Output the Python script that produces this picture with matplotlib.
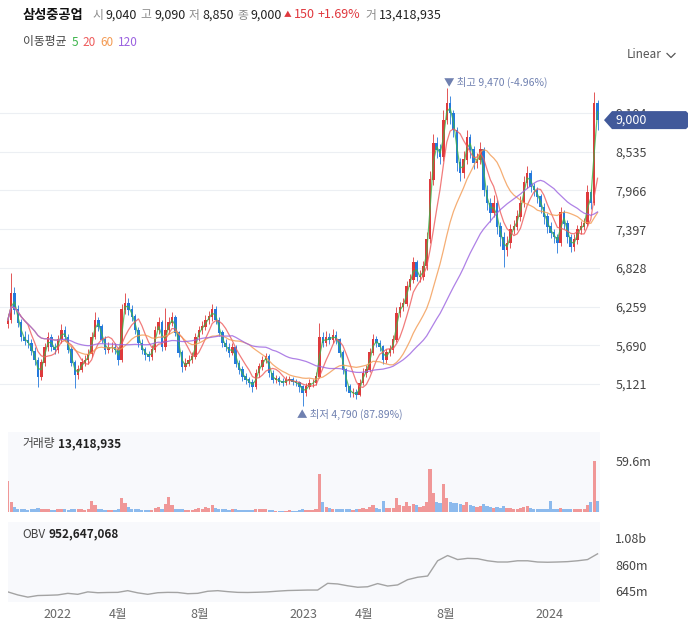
import matplotlib
matplotlib.use('Agg')
import matplotlib.pyplot as plt
import matplotlib.dates as mdates
from matplotlib.patches import Polygon
from matplotlib.lines import Line2D
import numpy as np
import pandas as pd

plt.rcParams['font.family'] = ['Noto Sans CJK KR', 'DejaVu Sans']

# ---------------- data ----------------
stock_name = '삼성중공업'
last_open, last_high, last_low, last_close = 9040, 9090, 8850, 9000
change, change_pct = 150, 1.69
last_volume = 13418935
last_obv = 952647068
max_price, max_pct = 9470, -4.96
min_price, min_pct = 4790, 87.89

start_date, end_date = '2021-10-20', '2024-03-13'
first_open = 6000

closes = [
    6060, 6450, 6210, 6020, 5810, 5760, 5720, 5600, 5470, 5230,
    5430, 5660, 5800, 5660, 5620, 5770, 5910, 5810, 5620, 5430,
    5250, 5330, 5430, 5470, 5560, 5810, 6060, 5960, 5770, 5620,
    5660, 5660, 5620, 5470, 6210, 6310, 6210, 6110, 5910, 5720,
    5620, 5550, 5520, 5620, 5910, 6020, 5660, 5910, 6020, 6100,
    5870, 5580, 5370, 5420, 5470, 5520, 5810, 5910, 5960, 6060,
    6110, 6210, 6060, 5870, 5720, 5660, 5580, 5660, 5420, 5330,
    5230, 5180, 5140, 5080, 5280, 5370, 5470, 5520, 5280, 5180,
    5200, 5150, 5140, 5180, 5180, 5150, 5140, 5080, 4990, 5080,
    5130, 5130, 5230, 5810, 5720, 5810, 5770, 5840, 5770, 5580,
    5330, 5080, 4990, 4990, 4960, 5130, 5280, 5330, 5580, 5770,
    5720, 5670, 5470, 5580, 5620, 5770, 6160, 6250, 6300, 6550,
    6650, 6900, 6700, 6700, 6850, 7250, 8120, 8660, 8560, 8460,
    9000, 9250, 9100, 8850, 8370, 8220, 8420, 8750, 8560, 8370,
    8420, 8560, 7970, 7780, 7640, 7780, 7430, 7280, 7090, 7190,
    7390, 7430, 7580, 7780, 8080, 8220, 8020, 7970, 7870, 7720,
    7580, 7430, 7340, 7280, 7190, 7640, 7480, 7280, 7140, 7240,
    7390, 7430, 7480, 7930, 7780, 9250, 9000,
]
highs = [
    6150, 6750, 6550, 6280, 6080, 5900, 5850, 5780, 5660, 5520,
    5490, 5720, 5880, 5860, 5720, 5840, 6000, 5980, 5860, 5680,
    5470, 5400, 5500, 5540, 5640, 5880, 6180, 6110, 6000, 5820,
    5740, 5740, 5720, 5660, 6300, 6460, 6380, 6280, 6150, 5960,
    5780, 5660, 5600, 5690, 5980, 6100, 6060, 6240, 6100, 6180,
    6140, 5900, 5620, 5500, 5540, 5590, 5870, 5980, 6040, 6130,
    6190, 6300, 6260, 6100, 5920, 5780, 5720, 5730, 5700, 5470,
    5380, 5280, 5220, 5190, 5340, 5430, 5530, 5580, 5560, 5320,
    5260, 5240, 5210, 5240, 5240, 5220, 5200, 5170, 5110, 5140,
    5190, 5200, 5300, 6020, 5880, 5900, 5870, 5930, 5900, 5800,
    5620, 5360, 5120, 5060, 5040, 5190, 5350, 5400, 5650, 5850,
    5830, 5770, 5700, 5640, 5690, 5840, 6250, 6330, 6380, 6640,
    6740, 6990, 6950, 6790, 6930, 7350, 8250, 8800, 8750, 8650,
    9150, 9470, 9350, 9150, 8900, 8450, 8550, 8850, 8800, 8620,
    8520, 8680, 8600, 8050, 7850, 7900, 7820, 7500, 7350, 7290,
    7480, 7530, 7680, 7880, 8180, 8330, 8260, 8080, 8020, 7920,
    7780, 7640, 7500, 7400, 7330, 7720, 7680, 7530, 7320, 7320,
    7460, 7520, 7560, 8050, 7980, 9420, 9300,
]
lows = [
    5950, 6020, 6150, 5960, 5760, 5700, 5650, 5540, 5400, 5080,
    5180, 5390, 5610, 5600, 5560, 5580, 5720, 5750, 5570, 5380,
    5060, 5200, 5290, 5380, 5420, 5520, 5780, 5900, 5720, 5560,
    5570, 5590, 5560, 5400, 5450, 6150, 6140, 6040, 5850, 5660,
    5560, 5480, 5460, 5480, 5590, 5860, 5600, 5620, 5860, 5980,
    5820, 5520, 5300, 5330, 5380, 5430, 5490, 5760, 5860, 5910,
    6000, 6050, 6000, 5820, 5660, 5600, 5520, 5540, 5370, 5270,
    5170, 5120, 5080, 5010, 5050, 5230, 5330, 5430, 5230, 5130,
    5140, 5100, 5090, 5100, 5120, 5100, 5090, 5010, 4790, 4950,
    5040, 5080, 5100, 5210, 5660, 5680, 5710, 5730, 5710, 5520,
    5270, 5020, 4930, 4930, 4900, 4940, 5100, 5230, 5300, 5540,
    5660, 5610, 5410, 5430, 5530, 5580, 5740, 6100, 6200, 6260,
    6500, 6600, 6640, 6620, 6650, 6800, 7200, 8050, 8450, 8350,
    8400, 8950, 8950, 8750, 8250, 8100, 8150, 8350, 8450, 8280,
    8300, 8350, 7880, 7680, 7500, 7580, 7330, 7150, 6840, 7000,
    7120, 7320, 7380, 7520, 7720, 8000, 7950, 7880, 7780, 7640,
    7480, 7340, 7260, 7200, 7050, 7150, 7400, 7200, 7060, 7080,
    7180, 7330, 7380, 7440, 7700, 7750, 8850,
]
volumes_m = [
    37, 12, 6, 4, 3, 3, 2.5, 3, 4, 5,
    4, 3, 3, 2.5, 2.5, 3, 4, 3, 2.5, 3,
    4, 3, 3, 2.5, 3, 13, 8, 4, 3, 2.5,
    2.5, 2, 2, 3, 16, 10, 6, 4, 3, 3,
    2.5, 2.5, 2, 2.5, 5, 6, 4, 9, 18, 8,
    4, 3, 3, 2.5, 2.5, 2, 4, 5, 4, 6,
    5, 8, 5, 4, 3, 3, 2.5, 3, 3, 2.5,
    2, 2, 2, 2, 3, 3, 4, 3, 2.5, 2,
    1.5, 1.5, 1.5, 1.5, 2, 1.5, 1.5, 2, 3, 2,
    2, 2, 3, 45, 12, 6, 5, 4, 4, 3,
    4, 3, 3, 2.5, 3, 4, 5, 4, 6, 8,
    5, 4, 13, 5, 5, 5, 16, 8, 7, 12,
    7, 9, 8, 6, 7, 12, 50, 22, 12, 10,
    33, 17, 12, 10, 11, 9, 8, 12, 8, 7,
    6, 7, 9, 7, 6, 5, 6, 5, 7, 5,
    5, 4, 4, 5, 6, 7, 5, 4, 4, 3,
    4, 4, 13, 4, 3, 5, 4, 3, 3, 3,
    3, 3, 4, 8, 12, 59.6, 13.4,
]
obv_m = [
    640, 615, 597, 610, 612, 615, 628, 620, 640, 633,
    635, 636, 650, 632, 620, 633, 636, 635, 625, 628,
    645, 650, 642, 636, 635, 637, 640, 646, 651, 653,
    655, 655, 710, 705, 690, 678, 682, 708, 688, 697,
    740, 760, 770, 895, 938, 905, 915, 912, 895, 885,
    885, 895, 895, 885, 883, 885, 888, 895, 905, 952,
]

ma_labels = ['5', '20', '60', '120']
ma_candle_windows = [2, 6, 17, 34]
ma_colors = ['#3cb44b', '#ee5b5b', '#f39a52', '#9b62e0']

price_ticks = [5121, 5690, 6259, 6828, 7397, 7966, 8535, 9104]
vol_ticks = [59.6]
vol_tick_labels = ['59.6m']
obv_ticks = [645, 860, 1080]
obv_tick_labels = ['645m', '860m', '1.08b']
x_tick_dates = ['2022-01-01', '2022-04-01', '2022-08-01', '2023-01-01',
                '2023-04-01', '2023-08-01', '2024-01-01']
x_tick_labels = ['2022', '4월', '8월', '2023', '4월', '8월', '2024']

# ---------------- layout ----------------
W, H = 697, 629
fig = plt.figure(figsize=(W / 100, H / 100), dpi=100)
fig.patch.set_facecolor('white')


def fbox(x0, y0, x1, y1):
    return [x0 / W, 1 - y1 / H, (x1 - x0) / W, (y1 - y0) / H]


ax = fig.add_axes(fbox(0, 65, 600, 425))
axv = fig.add_axes(fbox(8, 432, 600, 512))
axo = fig.add_axes(fbox(8, 522, 600, 602))

dates = pd.date_range(start_date, end_date, periods=len(closes))
xd = mdates.date2num(dates)
step = xd[1] - xd[0]
c = np.array(closes, float)
o = np.concatenate([[first_open], c[:-1]])
h = np.maximum(np.array(highs, float), np.maximum(o, c))
l = np.minimum(np.array(lows, float), np.minimum(o, c))
up = c >= o
up_col, dn_col = '#de3a3c', '#2479dc'
cols = np.where(up, up_col, dn_col)

ref = mdates.date2num(pd.Timestamp('2022-01-01'))
px_per_day = 0.674


def px2date(px):
    return ref + (px - 57) / px_per_day


# main candles
ax.vlines(xd, l, h, colors=cols, linewidth=0.6, zorder=3)
ax.bar(xd, np.abs(c - o) + 8, bottom=np.minimum(o, c), width=step * 0.75,
       color=cols, linewidth=0, zorder=3)

s = pd.Series(c)
for win, col in zip(ma_candle_windows, ma_colors):
    ma = s.rolling(win, min_periods=1).mean()
    ax.plot(xd, ma, color=col, lw=0.9, alpha=0.8, zorder=4)

ax.set_xlim(px2date(0), px2date(600))
ax.set_ylim(4518, 9810)
ax.set_yticks(price_ticks)
ax.set_yticklabels([f'{v:,}' for v in price_ticks])
ax.yaxis.tick_right()
ax.tick_params(axis='y', length=0, pad=11, labelsize=9, labelcolor='#444')
ax.set_xticks([])
ax.grid(axis='y', color='#eceff3', lw=0.8, zorder=0)
for sp in ax.spines.values():
    sp.set_visible(False)

# max / min annotations
imax = int(np.argmax(h))
imin = int(np.argmin(l))
ann_col = '#6f80b0'
ax.annotate(f'▼ 최고 {max_price:,} ({max_pct:.2f}%)', (xd[imax], h[imax]),
            xytext=(-2, 0), textcoords='offset points', ha='left', va='bottom',
            fontsize=7.5, color=ann_col, zorder=6)
ax.annotate(f'▲ 최저 {min_price:,} ({min_pct:.2f}%)', (xd[imin], l[imin]),
            xytext=(-4, -2), textcoords='offset points', ha='left', va='top',
            fontsize=7.5, color=ann_col, zorder=6)

# volume
vcols = np.where(up, '#f08c8c', '#80b4ec')
axv.bar(xd, volumes_m, width=step * 0.95, color=vcols, linewidth=0, alpha=0.9)
axv.set_facecolor('#f8f9fc')
axv.set_xlim(px2date(8), px2date(600))
axv.set_ylim(0, 94)
axv.set_yticks(vol_ticks)
axv.set_yticklabels(vol_tick_labels)
axv.yaxis.tick_right()
axv.tick_params(axis='y', length=0, pad=11, labelsize=9, labelcolor='#444')
axv.set_xticks([])
for sp in axv.spines.values():
    sp.set_visible(False)

# OBV
odates = mdates.date2num(pd.date_range(start_date, end_date, periods=len(obv_m)))
axo.plot(odates, obv_m, color='#a3a3a3', lw=1.0)
axo.set_facecolor('#f8f9fc')
axo.set_xlim(px2date(8), px2date(600))
axo.set_ylim(557, 1213)
axo.set_yticks(obv_ticks)
axo.set_yticklabels(obv_tick_labels)
axo.yaxis.tick_right()
axo.tick_params(axis='y', length=0, pad=11, labelsize=9, labelcolor='#444')
axo.set_xticks(mdates.date2num(pd.to_datetime(x_tick_dates)))
axo.set_xticklabels(x_tick_labels)
axo.tick_params(axis='x', length=0, pad=4, labelsize=9, labelcolor='#666')
for sp in axo.spines.values():
    sp.set_visible(False)

renderer = fig.canvas.get_renderer()


def place_seq(pieces, x0, y_px):
    x = x0
    for txt, color, weight, size, gap in pieces:
        t = fig.text(x / W, 1 - y_px / H, txt, color=color, fontsize=size,
                     fontweight=weight, va='center', ha='left')
        bb = t.get_window_extent(renderer)
        x = x + bb.width + gap


grey, dark, red = '#8a8a8a', '#222222', '#e0383e'
place_seq([
    (stock_name, '#111111', 'bold', 9.5, 9),
    ('시', grey, 'normal', 8.5, 2.5), (f'{last_open:,}', dark, 'normal', 9, 3.5),
    ('고', grey, 'normal', 8.5, 2.5), (f'{last_high:,}', dark, 'normal', 9, 3.5),
    ('저', grey, 'normal', 8.5, 2.5), (f'{last_low:,}', dark, 'normal', 9, 3.5),
    ('종', grey, 'normal', 8.5, 2.5), (f'{last_close:,}', dark, 'normal', 9, 2),
    ('▲', red, 'normal', 5.5, 2), (f'{change}', red, 'normal', 9, 3),
    (f'+{change_pct:.2f}%', red, 'normal', 9, 5),
    ('거', grey, 'normal', 8.5, 2.5), (f'{last_volume:,}', dark, 'normal', 9, 0),
], 23, 15)

place_seq([('이동평균', '#444444', 'normal', 8.5, 5)] +
          [(lab, col, 'normal', 8.5, 4.5) for lab, col in zip(ma_labels, ma_colors)],
          23, 42)

place_seq([('거래량', '#444444', 'normal', 8.5, 3),
           (f'{last_volume:,}', '#222222', 'bold', 8.5, 0)], 22, 444)
place_seq([('OBV', '#444444', 'normal', 8.5, 3),
           (f'{last_obv:,}', '#222222', 'bold', 8.5, 0)], 22, 534)

# Linear selector
fig.text(627 / W, 1 - 55 / H, 'Linear', fontsize=8.5, color='#555555',
         va='center', ha='left')
fig.add_artist(Line2D([667 / W, 671 / W, 675 / W],
                      [1 - 53.5 / H, 1 - 57.5 / H, 1 - 53.5 / H],
                      color='#555555', lw=0.9))

# current price tag
y_disp = ax.transData.transform((px2date(300), last_close))[1]
yc = H - y_disp
pts = [(604, yc), (612, yc - 9), (686, yc - 9), (688, yc - 7),
       (688, yc + 7), (686, yc + 9), (612, yc + 9)]
fig.add_artist(Polygon([(px / W, 1 - py / H) for px, py in pts], closed=True,
                       facecolor='#41599a', edgecolor='none', zorder=10))
fig.text(615 / W, 1 - yc / H, f'{last_close:,}', color='white', fontsize=9,
         va='center', ha='left', zorder=11)

fig.savefig('out.png', dpi=100, facecolor='white')
